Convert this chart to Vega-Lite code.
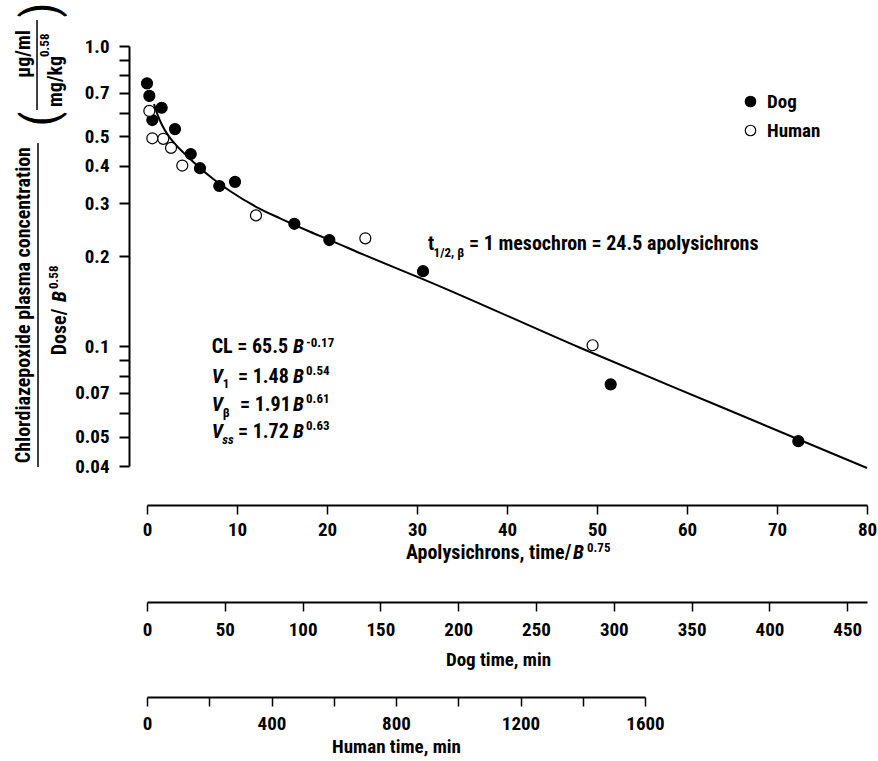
{
  "$schema": "https://vega.github.io/schema/vega-lite/v6.json",
  "width": 720,
  "height": 420,
  "autosize": {"type": "none"},
  "padding": {"left": 147, "top": 46, "right": 11, "bottom": 295},
  "background": "white",
  "config": {
    "font": "Liberation Sans Narrow, Roboto Condensed, DejaVu Sans Condensed, Liberation Sans, sans-serif",
    "view": {"stroke": null},
    "axis": {
      "domainColor": "black", "tickColor": "black", "labelColor": "black", "titleColor": "black",
      "labelFont": "Liberation Sans Narrow, Roboto Condensed, DejaVu Sans Condensed, Liberation Sans, sans-serif",
      "titleFont": "Liberation Sans Narrow, Roboto Condensed, DejaVu Sans Condensed, Liberation Sans, sans-serif",
      "labelFontSize": 19, "titleFontSize": 19, "labelFontWeight": "bold", "titleFontWeight": "bold", "grid": false
    },
    "legend": {
      "labelFont": "Liberation Sans Narrow, Roboto Condensed, DejaVu Sans Condensed, Liberation Sans, sans-serif",
      "labelFontSize": 19, "labelFontWeight": "bold", "labelColor": "black"
    },
    "text": {"color": "black", "fontWeight": "bold"}
  },
  "datasets": {
    "points": [
      {"x": 0, "y": 0.751, "species": "Dog"},
      {"x": 0.26, "y": 0.682, "species": "Dog"},
      {"x": 1.63, "y": 0.623, "species": "Dog"},
      {"x": 0.59, "y": 0.567, "species": "Dog"},
      {"x": 3.11, "y": 0.529, "species": "Dog"},
      {"x": 4.86, "y": 0.437, "species": "Dog"},
      {"x": 5.89, "y": 0.392, "species": "Dog"},
      {"x": 8.03, "y": 0.342, "species": "Dog"},
      {"x": 9.78, "y": 0.353, "species": "Dog"},
      {"x": 16.37, "y": 0.256, "species": "Dog"},
      {"x": 20.26, "y": 0.226, "species": "Dog"},
      {"x": 30.67, "y": 0.178, "species": "Dog"},
      {"x": 51.52, "y": 0.0748, "species": "Dog"},
      {"x": 72.37, "y": 0.0484, "species": "Dog"},
      {"x": 0.26, "y": 0.608, "species": "Human"},
      {"x": 0.59, "y": 0.493, "species": "Human"},
      {"x": 1.81, "y": 0.491, "species": "Human"},
      {"x": 2.67, "y": 0.458, "species": "Human"},
      {"x": 3.92, "y": 0.4, "species": "Human"},
      {"x": 12.11, "y": 0.273, "species": "Human"},
      {"x": 24.26, "y": 0.229, "species": "Human"},
      {"x": 49.51, "y": 0.1009, "species": "Human"}
    ],
    "curve": [
      {"x": 0.78, "y": 0.641}, {"x": 1.22, "y": 0.585}, {"x": 1.67, "y": 0.546},
      {"x": 2.33, "y": 0.505}, {"x": 3.11, "y": 0.472}, {"x": 4.56, "y": 0.427},
      {"x": 5.89, "y": 0.3925}, {"x": 7.22, "y": 0.3636}, {"x": 9.22, "y": 0.3292},
      {"x": 12.11, "y": 0.2917}, {"x": 14.78, "y": 0.2669}, {"x": 18.11, "y": 0.2409},
      {"x": 20.33, "y": 0.226}, {"x": 24.0, "y": 0.2025}, {"x": 31.44, "y": 0.1638},
      {"x": 48.11, "y": 0.099}, {"x": 63.67, "y": 0.0631}, {"x": 80, "y": 0.0394}
    ],
    "rules": [
      {"x": -12.11, "y": 0.4755, "y2": 0.0397},
      {"x": -12.22, "y": 1.22, "y2": 0.6124}
    ],
    "txtN": [
      {"x": 7.19, "y": 0.0948, "label": "CL = 65.5"},
      {"x": 10.11, "y": 0.0754, "label": "= 1.48"},
      {"x": 10.33, "y": 0.061, "label": "= 1.91"},
      {"x": 10.11, "y": 0.0494, "label": "= 1.72"},
      {"x": 31.22, "y": 0.2099, "label": "t"},
      {"x": 35.78, "y": 0.2099, "label": "= 1 mesochron = 24.5 apolysichrons"},
      {"x": 28.78, "y": 0.0196, "label": "Apolysichrons, time/"}
    ],
    "txtI": [
      {"x": 16.22, "y": 0.0948, "label": "B"},
      {"x": 7.19, "y": 0.0754, "label": "V"},
      {"x": 16.22, "y": 0.0754, "label": "B"},
      {"x": 7.19, "y": 0.061, "label": "V"},
      {"x": 16.22, "y": 0.061, "label": "B"},
      {"x": 7.19, "y": 0.0494, "label": "V"},
      {"x": 16.22, "y": 0.0494, "label": "B"},
      {"x": 47.33, "y": 0.0196, "label": "B"}
    ],
    "txtS": [
      {"x": 17.67, "y": 0.0993, "label": "-0.17"},
      {"x": 8.41, "y": 0.0725, "label": "1"},
      {"x": 17.67, "y": 0.0803, "label": "0.54"},
      {"x": 8.41, "y": 0.0583, "label": "β"},
      {"x": 17.67, "y": 0.065, "label": "0.61"},
      {"x": 17.67, "y": 0.0527, "label": "0.63"},
      {"x": 31.84, "y": 0.1984, "label": "1/2, β"},
      {"x": 48.89, "y": 0.0207, "label": "0.75"}
    ],
    "txtSI": [
      {"x": 8.37, "y": 0.0473, "label": "ss"}
    ],
    "rotC": [
      {"x": -13.0, "y": 0.1373, "label": "Chlordiazepoxide plasma concentration"},
      {"x": -13.0, "y": 0.9406, "label": "µg/ml"}
    ],
    "rotL": [
      {"x": -9.0, "y": 0.0935, "label": "Dose/"},
      {"x": -9.44, "y": 0.6266, "label": "mg/kg"}
    ],
    "rotIR": [
      {"x": -9.0, "y": 0.1529, "label": "B"}
    ],
    "rotSL": [
      {"x": -9.89, "y": 0.1553, "label": "0.58"},
      {"x": -10.89, "y": 0.9192, "label": "0.58"}
    ],
    "parens": [
      {"x": -11.67, "y": 0.5714, "label": "("},
      {"x": -11.67, "y": 1.318, "label": ")"}
    ],
    "dogaxis": [{"m": 0}, {"m": 450}],
    "humanaxis": [{"m": 0}, {"m": 1600}]
  },
  "layer": [
    {
      "encoding": {
        "x": {
          "field": "x", "type": "quantitative",
          "scale": {"domain": [0, 80], "nice": false, "zero": false},
          "axis": {
            "orient": "bottom", "offset": 39, "values": [0, 10, 20, 30, 40, 50, 60, 70, 80],
            "format": "d", "title": null, "domainWidth": 2, "tickWidth": 1.5, "tickSize": 9,
            "labelPadding": 6, "labelFlush": false, "labelOverlap": false
          }
        },
        "y": {
          "field": "y", "type": "quantitative",
          "scale": {"type": "log", "domain": [0.04, 1], "nice": false},
          "axis": {
            "orient": "left", "offset": 18,
            "values": [1, 0.9, 0.8, 0.7, 0.6, 0.5, 0.4, 0.3, 0.2, 0.1, 0.09, 0.08, 0.07, 0.06, 0.05, 0.04],
            "format": ".2~f",
            "labelExpr": "datum.value == 1 ? '1.0' : (indexof([0.7, 0.5, 0.4, 0.3, 0.2, 0.1, 0.07, 0.05, 0.04], datum.value) >= 0 ? datum.label : '')",
            "title": null, "domainWidth": 2, "tickWidth": 2, "tickSize": 10,
            "labelPadding": 10, "labelOverlap": false, "labelFlush": false
          }
        }
      },
      "layer": [
        {"data": {"name": "curve"}, "mark": {"type": "line", "color": "black", "strokeWidth": 2, "interpolate": "monotone"}},
        {
          "data": {"name": "points"},
          "mark": {"type": "point", "filled": true, "shape": "circle", "size": 121, "stroke": "black", "strokeWidth": 1.2, "opacity": 1},
          "encoding": {
            "fill": {
              "field": "species", "type": "nominal",
              "scale": {"domain": ["Dog", "Human"], "range": ["black", "white"]},
              "legend": {
                "orient": "none", "legendX": 594, "legendY": 46, "title": null,
                "symbolType": "circle", "symbolSize": 110, "symbolStrokeColor": "black", "symbolStrokeWidth": 1.2,
                "rowPadding": 9, "labelOffset": 7, "padding": 0
              }
            }
          }
        },
        {"data": {"name": "rules"}, "mark": {"type": "rule", "color": "black", "strokeWidth": 1.5}, "encoding": {"y2": {"field": "y2"}}},
        {"data": {"name": "txtN"}, "mark": {"type": "text", "align": "left", "baseline": "alphabetic", "fontSize": 20}, "encoding": {"text": {"field": "label"}}},
        {"data": {"name": "txtI"}, "mark": {"type": "text", "align": "left", "baseline": "alphabetic", "fontSize": 20, "fontStyle": "italic"}, "encoding": {"text": {"field": "label"}}},
        {"data": {"name": "txtS"}, "mark": {"type": "text", "align": "left", "baseline": "alphabetic", "fontSize": 13}, "encoding": {"text": {"field": "label"}}},
        {"data": {"name": "txtSI"}, "mark": {"type": "text", "align": "left", "baseline": "alphabetic", "fontSize": 13, "fontStyle": "italic"}, "encoding": {"text": {"field": "label"}}},
        {"data": {"name": "rotC"}, "mark": {"type": "text", "angle": 270, "align": "center", "baseline": "alphabetic", "fontSize": 20}, "encoding": {"text": {"field": "label"}}},
        {"data": {"name": "rotL"}, "mark": {"type": "text", "angle": 270, "align": "left", "baseline": "alphabetic", "fontSize": 20}, "encoding": {"text": {"field": "label"}}},
        {"data": {"name": "rotIR"}, "mark": {"type": "text", "angle": 270, "align": "right", "baseline": "alphabetic", "fontSize": 20, "fontStyle": "italic"}, "encoding": {"text": {"field": "label"}}},
        {"data": {"name": "rotSL"}, "mark": {"type": "text", "angle": 270, "align": "left", "baseline": "alphabetic", "fontSize": 13}, "encoding": {"text": {"field": "label"}}},
        {"data": {"name": "parens"}, "mark": {"type": "text", "angle": 270, "align": "center", "baseline": "middle", "fontSize": 48, "fontWeight": "normal"}, "encoding": {"text": {"field": "label"}}}
      ]
    },
    {
      "data": {"name": "dogaxis"},
      "mark": {"type": "rule", "opacity": 0},
      "encoding": {
        "x": {
          "field": "m", "type": "quantitative",
          "scale": {"domain": [0, 462.7], "nice": false, "zero": false},
          "axis": {
            "orient": "bottom", "offset": 136, "values": [0, 50, 100, 150, 200, 250, 300, 350, 400, 450],
            "format": "d", "title": "Dog time, min", "titleX": 351, "domainWidth": 2, "tickWidth": 1.5, "tickSize": 9,
            "labelPadding": 9, "labelFlush": false, "labelOverlap": false, "titlePadding": 11
          }
        }
      }
    },
    {
      "data": {"name": "humanaxis"},
      "mark": {"type": "rule", "opacity": 0},
      "encoding": {
        "x": {
          "field": "m", "type": "quantitative",
          "scale": {"domain": [0, 1600], "range": [0, 498], "nice": false, "zero": false},
          "axis": {
            "orient": "bottom", "offset": 231, "values": [0, 200, 400, 600, 800, 1000, 1200, 1400, 1600],
            "format": "d", "labelExpr": "datum.value % 400 == 0 ? datum.label : ''",
            "title": "Human time, min", "domainWidth": 2, "tickWidth": 1.5, "tickSize": 9,
            "labelPadding": 8, "labelFlush": false, "labelOverlap": false, "titlePadding": 4
          }
        }
      }
    }
  ],
  "resolve": {"scale": {"x": "independent"}, "axis": {"x": "independent"}}
}
